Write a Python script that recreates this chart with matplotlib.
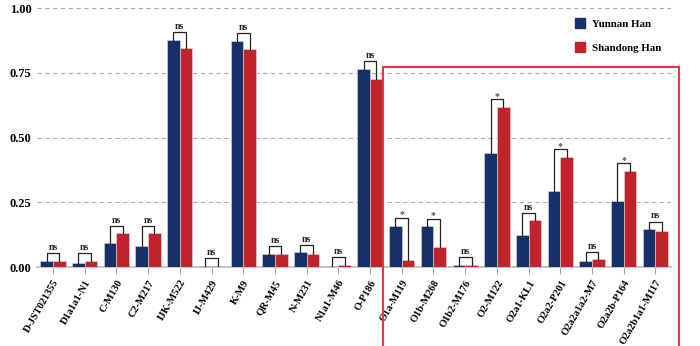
import numpy as np
import matplotlib.pyplot as plt
from matplotlib.patches import Rectangle, Patch

# data
markers = ['D-JST021355', 'D1a1a1-N1', 'C-M130', 'C2-M217', 'IJK-M522', 'IJ-M429',
           'K-M9', 'QR-M45', 'N-M231', 'N1a1-M46', 'O-P186', 'O1a-M119', 'O1b-M268',
           'O1b2-M176', 'O2-M122', 'O2a1-KL1', 'O2a2-P201', 'O2a2a1a2-M7',
           'O2a2b-P164', 'O2a2b1a1-M117']
yunnan = [0.023, 0.014, 0.093, 0.080, 0.876, 0.004, 0.873, 0.049, 0.057, 0.005,
          0.764, 0.160, 0.157, 0.008, 0.441, 0.125, 0.295, 0.024, 0.256, 0.146]
shandong = [0.025, 0.025, 0.130, 0.130, 0.844, 0.004, 0.840, 0.052, 0.050, 0.008,
            0.726, 0.027, 0.076, 0.010, 0.617, 0.180, 0.426, 0.030, 0.372, 0.138]
signif = ['ns'] * 11 + ['*', '*', 'ns', '*', 'ns', '*', 'ns', '*', 'ns']

blue = '#17306A'
red = '#C1232B'
plt.rcParams['font.family'] = ['Liberation Serif', 'DejaVu Serif']
plt.rcParams['font.weight'] = 'bold'

fig = plt.figure(figsize=(7, 3.46), dpi=100)
ax = fig.add_axes([0.053, 0.228, 0.906, 0.751])

x = np.arange(len(markers))
w = 0.4
ax.bar(x - w / 2, yunnan, w, color=blue, edgecolor='#dddddd', linewidth=0.4, zorder=3)
ax.bar(x + w / 2, shandong, w, color=red, edgecolor='#dddddd', linewidth=0.4, zorder=3)

# significance brackets
for i in range(len(markers)):
    a, b = yunnan[i], shandong[i]
    top = max(a, b) + 0.03
    ax.plot([i - w / 2, i - w / 2, i + w / 2, i + w / 2], [a, top, top, b],
            color='#222222', lw=0.9, zorder=4)
    if signif[i] == 'ns':
        ax.text(i, top + 0.004, 'ns', ha='center', va='bottom', fontsize=7,
                fontweight='bold', color='#222222')
    else:
        ax.text(i, top - 0.006, '*', ha='center', va='bottom', fontsize=7,
                fontweight='bold', color='#555555')

ax.set_xlim(-0.5, len(markers) - 0.5)
ax.set_ylim(0, 1.003)
ax.set_yticks([0, 0.25, 0.5, 0.75, 1.0])
ax.set_yticklabels(['0.00', '0.25', '0.50', '0.75', '1.00'], fontsize=9, fontweight='bold')
ax.yaxis.grid(True, linestyle=(0, (4, 3)), color='#aaaaaa', lw=0.8, zorder=0)
ax.tick_params(axis='y', length=0, pad=4)
ax.set_xticks(x)
ax.set_xticklabels(markers, rotation=60, ha='right', rotation_mode='anchor',
                   fontsize=7.5, fontweight='bold')
ax.tick_params(axis='x', length=5, color='#aaaaaa', pad=3)
for s in ['top', 'right', 'left']:
    ax.spines[s].set_visible(False)
ax.spines['bottom'].set_color('#bbbbbb')
ax.spines['bottom'].set_linewidth(1.2)

handles = [Patch(color=blue, label='Yunnan Han'), Patch(color=red, label='Shandong Han')]
ax.legend(handles=handles, loc='upper left', bbox_to_anchor=(0.808, 0.975),
          bbox_transform=fig.transFigure, frameon=False, fontsize=7.8,
          handlelength=0.9, handleheight=1.0, handletextpad=0.6, labelspacing=1.2)

# red highlight box
fig.patches.append(Rectangle((0.547, -0.01), 0.423, 0.816, transform=fig.transFigure,
                             fill=False, edgecolor='#E8373F', lw=1.5, clip_on=False))

fig.savefig('out.png', dpi=100)
